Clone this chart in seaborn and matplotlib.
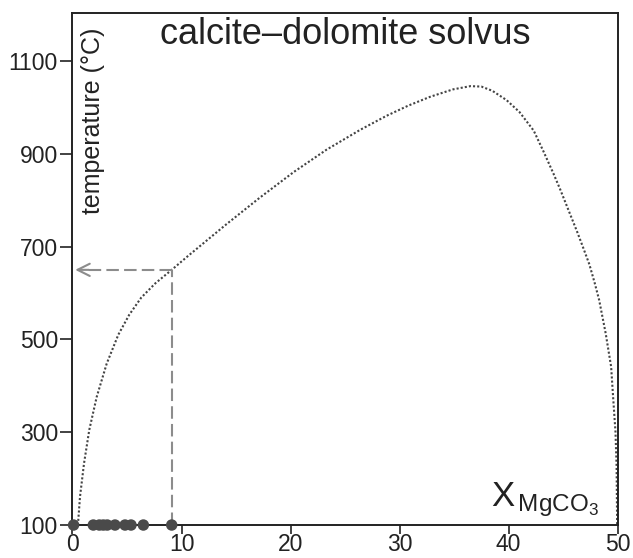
import pandas as pd
import matplotlib
matplotlib.use("Agg")
import matplotlib.pyplot as plt
import seaborn as sns

# solvus curve (mol% MgCO3, temperature in C)
solvus_x = [0.5, 0.69, 1.06, 1.54, 2.22, 3.14, 4.2, 5.2, 6.3, 7.6, 9.1,
            10.6, 14.1, 17.2, 20.3, 23.3, 26.4, 28.8, 30.8, 32.8, 34.9,
            36.5, 37.5, 38.5, 39.8, 41.0, 42.3, 43.2, 44.1, 44.7, 45.5,
            46.3, 46.8, 47.4, 47.9, 48.3, 48.9, 49.4, 49.6, 49.8, 49.9,
            49.95]
solvus_t = [100, 161, 233, 305, 376, 448, 510, 553, 590, 621, 650,
            680, 748, 806, 861, 909, 952, 982, 1004, 1023, 1039,
            1046, 1045, 1036, 1016, 990, 950, 905, 858, 825, 778,
            731, 700, 662, 621, 585, 513, 441, 369, 300, 226,
            100]

# measured calcite compositions along the base
sample_x = [0.1, 1.91, 2.46, 2.83, 3.19, 3.9, 4.82, 5.37, 6.5, 9.1]
sample_t = [100] * len(sample_x)

# example read-off
read_x = 9.1
read_t = 650

xticks = [0, 10, 20, 30, 40, 50]
yticks = [100, 300, 500, 700, 900, 1100]

sns.set_style("ticks")
plt.rcParams["font.family"] = ["Liberation Sans", "DejaVu Sans"]
plt.rcParams["mathtext.fontset"] = "custom"
plt.rcParams["mathtext.rm"] = "Liberation Sans"
plt.rcParams["mathtext.it"] = "Liberation Sans"

ink = "#222222"
curve_col = "#444444"
dot_col = "#4a4a4a"
dash_col = "#8c8c8c"

fig = plt.figure(figsize=(6.33, 5.58), dpi=100)
ax = fig.add_axes([0.1145, 0.0591, 0.8613, 0.9171])

solvus = pd.DataFrame({"x": solvus_x, "t": solvus_t})
sns.lineplot(data=solvus, x="x", y="t", sort=False, ax=ax, color=curve_col,
             lw=1.5, linestyle=(0, (1, 1)))

# dashed read-off lines
ax.plot([read_x, read_x], [sample_t[0], read_t], color=dash_col, lw=1.5,
        linestyle=(0, (6, 2.5)), zorder=3)
ax.plot([read_x, 1.2], [read_t, read_t], color=dash_col, lw=1.5,
        linestyle=(0, (6, 2.5)), zorder=3)
ax.annotate("", xy=(0.25, read_t), xytext=(1.5, read_t),
            arrowprops=dict(arrowstyle="->", color=dash_col, lw=1.5,
                            mutation_scale=22, shrinkA=0, shrinkB=0))

samples = pd.DataFrame({"x": sample_x, "t": sample_t})
sns.scatterplot(data=samples, x="x", y="t", ax=ax, s=68, color=dot_col,
                edgecolor="none", clip_on=False, zorder=5)

ax.set_xlim(0, 50)
ax.set_ylim(100, 1203)
ax.set_xticks(xticks)
ax.set_yticks(yticks)
ax.set_xlabel("")
ax.set_ylabel("")
ax.tick_params(labelsize=16.5, width=1.2, colors=ink, direction="out")
ax.tick_params(axis="y", length=9, pad=1.5)
ax.tick_params(axis="x", length=6.5, pad=-0.5)
for sp in ax.spines.values():
    sp.set_visible(True)
    sp.set_linewidth(1.4)
    sp.set_color(ink)

ax.text(0.5, 0.939, "calcite\u2013dolomite solvus", transform=ax.transAxes,
        ha="center", va="baseline", fontsize=26, color=ink)
ax.text(0.0376, 0.971, "temperature (\u00b0C)", transform=ax.transAxes,
        ha="center", va="top", rotation=90, fontsize=18, color=ink)
ax.text(0.966, 0.036, r"$\mathrm{X_{\,MgCO_3}}$", transform=ax.transAxes,
        ha="right", va="baseline", fontsize=25, color=ink)

fig.savefig("out.png", dpi=100)
